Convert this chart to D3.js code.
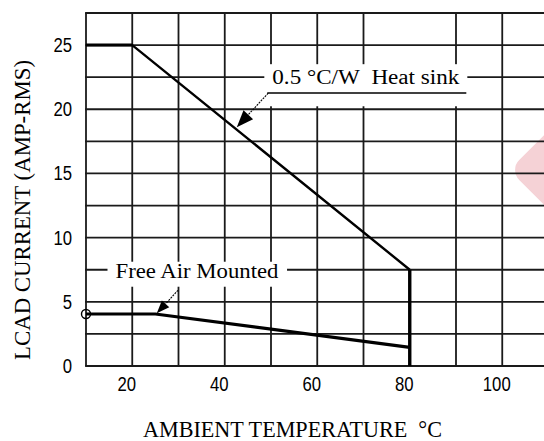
<!DOCTYPE html>
<html>
<head>
<meta charset="utf-8">
<script src="https://cdn.jsdelivr.net/npm/d3@7"></script>
<style>
  body { margin: 0; background: #fff; }
  svg { display: block; }
</style>
</head>
<body>
<svg id="graph" width="544" height="441"></svg>
<script>
// courbe avec dissipateur 0.5 °C/W
let tempHeatSink = [10, 20, 80, 80];
let ampHeatSink = [25, 25, 7.5, 0];
// courbe a l'air libre
let tempFreeAir = [10, 25, 80];
let ampFreeAir = [4.05, 4.05, 1.45];

let xTicks = [20, 40, 60, 80, 100];
let yTicks = [0, 5, 10, 15, 20, 25];
// grille : pas de trait a 80, c'est la chute de la courbe qui le remplace
let xGrid = [10, 20, 30, 40, 50, 60, 70, 90, 100, 110];
let yGrid = [0, 2.5, 5, 7.5, 10, 12.5, 15, 17.5, 20, 22.5, 25, 27.5];

// annotations (en unites du graphe)
let labelHeatSink = "0.5 °C/W\u00a0 Heat sink";
let posHeatSink = [70.5, 22.5];
let arrowHeatSink = [[49.4, 21.26], [42.6, 18.6]];
let labelFreeAir = "Free Air Mounted";
let posFreeAir = [34, 7.5];
let arrowFreeAir = [[29.9, 5.9], [25.3, 4.1]];

let svg = d3.select("#graph");
let x = d3.scaleLinear().domain([10, 110]).range([86, 548.5]);
let y = d3.scaleLinear().domain([0, 27.5]).range([366, 13]);
let W = 544;
let ink = "#1a1a1a";

// tache rose a droite
svg.append("rect")
  .attr("x", -50).attr("y", -50).attr("width", 100).attr("height", 100)
  .attr("rx", 14)
  .attr("fill", "#f5d2d6")
  .attr("transform", "translate(580,170) rotate(45)");

// grille
svg.append("g").selectAll("line").data(xGrid).join("line")
  .attr("x1", d => x(d)).attr("x2", d => x(d))
  .attr("y1", y(0)).attr("y2", y(27.5))
  .attr("stroke", ink).attr("stroke-width", 1.8);
svg.append("g").selectAll("line").data(yGrid).join("line")
  .attr("x1", x(10) - 0.9).attr("x2", W)
  .attr("y1", d => y(d)).attr("y2", d => y(d))
  .attr("stroke", ink).attr("stroke-width", 1.8);

let line = d3.line().x(d => x(d[0])).y(d => y(d[1]));
let hs = tempHeatSink.map((t, i) => [t, ampHeatSink[i]]);
let fa = tempFreeAir.map((t, i) => [t, ampFreeAir[i]]);

// courbes
svg.append("path").datum(hs.slice(0, 3))
  .attr("d", line).attr("fill", "none")
  .attr("stroke", "#000").attr("stroke-width", 2.4);
svg.append("path").datum(hs.slice(0, 2))
  .attr("d", line).attr("fill", "none")
  .attr("stroke", "#000").attr("stroke-width", 3);
svg.append("path").datum(hs.slice(2))
  .attr("d", line).attr("fill", "none")
  .attr("stroke", "#000").attr("stroke-width", 3.4);
svg.append("path").datum(fa)
  .attr("d", line).attr("fill", "none")
  .attr("stroke", "#000").attr("stroke-width", 3.2);
svg.append("circle")
  .attr("cx", x(fa[0][0])).attr("cy", y(fa[0][1])).attr("r", 4.5)
  .attr("fill", "none").attr("stroke", "#000").attr("stroke-width", 1.4);

// fleche : trait pointille + tete pleine
function fleche(p, L, w) {
  let x0 = x(p[0][0]), y0 = y(p[0][1]), x1 = x(p[1][0]), y1 = y(p[1][1]);
  let a = Math.atan2(y1 - y0, x1 - x0);
  let bx = x1 - L * Math.cos(a), by = y1 - L * Math.sin(a);
  svg.append("line")
    .attr("x1", x0).attr("y1", y0).attr("x2", bx).attr("y2", by)
    .attr("stroke", "#000").attr("stroke-width", 1.1)
    .attr("stroke-dasharray", "2,1");
  svg.append("path")
    .attr("d", `M${x1},${y1}L${bx + w * Math.sin(a)},${by - w * Math.cos(a)}L${bx - w * Math.sin(a)},${by + w * Math.cos(a)}Z`)
    .attr("fill", "#000");
}

// etiquette heat sink
let tHs = svg.append("text")
  .attr("x", x(posHeatSink[0])).attr("y", y(posHeatSink[1]) + 7)
  .attr("text-anchor", "middle")
  .attr("font-family", "Liberation Serif, serif").attr("font-size", 20)
  .attr("textLength", 187).attr("lengthAdjust", "spacingAndGlyphs")
  .attr("fill", "#000")
  .text(labelHeatSink);
let bHs = tHs.node().getBBox();
svg.insert("rect", "text")
  .attr("x", bHs.x - 8).attr("y", y(22.5) - 13)
  .attr("width", bHs.width + 16).attr("height", y(20) - 3 - (y(22.5) - 13))
  .attr("fill", "#fff");
svg.append("line")
  .attr("x1", bHs.x - 5).attr("x2", bHs.x + bHs.width + 7)
  .attr("y1", y(arrowHeatSink[0][1])).attr("y2", y(arrowHeatSink[0][1]))
  .attr("stroke", "#000").attr("stroke-width", 1.5);
fleche(arrowHeatSink, 17, 6.5);

// etiquette free air
let tFa = svg.append("text")
  .attr("x", x(posFreeAir[0])).attr("y", y(posFreeAir[1]) + 8)
  .attr("text-anchor", "middle")
  .attr("font-family", "Liberation Serif, serif").attr("font-size", 21)
  .attr("textLength", 163).attr("lengthAdjust", "spacingAndGlyphs")
  .attr("fill", "#000")
  .text(labelFreeAir);
let bFa = tFa.node().getBBox();
svg.insert("rect", "text")
  .attr("x", bFa.x - 8).attr("y", y(7.5) - 8)
  .attr("width", bFa.width + 16).attr("height", 25)
  .attr("fill", "#fff");
fleche(arrowFreeAir, 13, 5);

// axes
let axY = svg.append("g")
  .attr("transform", "translate(72,0)")
  .call(d3.axisLeft(y).tickValues(yTicks).tickSize(0).tickPadding(0).tickFormat(d3.format("d")));
let axX = svg.append("g")
  .attr("transform", `translate(-6,${y(0)})`)
  .call(d3.axisBottom(x).tickValues(xTicks).tickSize(0).tickPadding(11).tickFormat(d3.format("d")));
[axX, axY].forEach(ax => {
  ax.select(".domain").remove();
  ax.selectAll("text")
    .attr("font-family", "Liberation Sans, Arial, sans-serif")
    .attr("font-size", 20).attr("fill", "#000")
    .attr("textLength", d => String(d).length * 9.3)
    .attr("lengthAdjust", "spacingAndGlyphs");
});

// titres
svg.append("text")
  .attr("transform", "translate(30,210) rotate(-90)")
  .attr("text-anchor", "middle")
  .attr("font-family", "Liberation Serif, serif").attr("font-size", 24)
  .attr("textLength", 300).attr("lengthAdjust", "spacingAndGlyphs")
  .text("LCAD CURRENT (AMP-RMS)");
svg.append("text")
  .attr("x", 143).attr("y", 437)
  .attr("font-family", "Liberation Serif, serif").attr("font-size", 24)
  .attr("textLength", 299).attr("lengthAdjust", "spacingAndGlyphs")
  .text("AMBIENT TEMPERATURE\u00a0\u00a0°C");
</script>
</body>
</html>
